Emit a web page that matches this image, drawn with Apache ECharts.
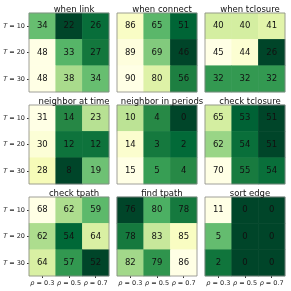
<!DOCTYPE html>
<html><head><meta charset="utf-8">
<script src="https://cdn.jsdelivr.net/npm/echarts@6/dist/echarts.min.js"></script>
<style>html,body{margin:0;padding:0;background:#fff}#c{width:291px;height:291px}</style>
</head><body><div id="c"></div>
<script>
const titles = ['when link','when connect','when tclosure','neighbor at time','neighbor in periods','check tclosure','check tpath','find tpath','sort edge'];
const rowLabels = ['10','20','30'];
const colLabels = ['0.3','0.5','0.7'];
const whenLink = [[34,22,26],[48,33,27],[48,38,34]];
const whenConnect = [[86,65,51],[89,69,46],[90,80,56]];
const whenTclosure = [[40,40,41],[45,44,26],[32,32,32]];
const neighborAtTime = [[31,14,23],[30,12,12],[28,8,19]];
const neighborInPeriods = [[10,4,0],[14,3,2],[15,5,4]];
const checkTclosure = [[65,53,51],[62,54,51],[70,55,54]];
const checkTpath = [[68,62,59],[62,54,64],[64,57,52]];
const findTpath = [[76,80,78],[78,83,85],[82,79,86]];
const sortEdge = [[11,0,0],[5,0,0],[2,0,0]];
const panels = [whenLink,whenConnect,whenTclosure,neighborAtTime,neighborInPeriods,checkTclosure,checkTpath,findTpath,sortEdge];

const colors = ['#004529','#006837','#238443','#41ab5d','#78c679','#addd8e','#d9f0a3','#f7fcb9','#ffffe5'];
const lefts = [29,117,205], tops = [13,105,197], W = 80, H = 79;
const F = 'DejaVu Sans';
const grid=[], xAxis=[], yAxis=[], series=[], visualMap=[], title=[];
panels.forEach((m,k)=>{
  const r=Math.floor(k/3), c=k%3;
  grid.push({left:lefts[c], top:tops[r], width:W, height:H, show:true, borderColor:'#888', borderWidth:0.8, backgroundColor:'transparent', z:5});
  xAxis.push({type:'category', gridIndex:k, data:colLabels, position:'bottom',
    axisLine:{show:false}, splitLine:{show:false},
    axisTick:{show:r===2, length:2, lineStyle:{color:'#333'}, alignWithLabel:true, interval:0},
    axisLabel:{show:r===2, interval:0, margin:4, fontFamily:F, fontSize:6.5, color:'#222',
      formatter:v=>'{i|ρ} = '+v, rich:{i:{fontStyle:'italic', fontFamily:F, fontSize:6.5, color:'#222'}}}});
  yAxis.push({type:'category', gridIndex:k, data:rowLabels, inverse:true,
    axisLine:{show:false}, splitLine:{show:false},
    axisTick:{show:c===0, length:2, lineStyle:{color:'#333'}, alignWithLabel:true, interval:0},
    axisLabel:{show:c===0, interval:0, margin:4, fontFamily:F, fontSize:6.5, color:'#222',
      formatter:v=>'{i|T} = '+v, rich:{i:{fontStyle:'italic', fontFamily:F, fontSize:6.5, color:'#222'}}}});
  const data=[]; let mn=Infinity, mx=-Infinity;
  m.forEach((row,i)=>row.forEach((v,j)=>{data.push([j,i,v]); mn=Math.min(mn,v); mx=Math.max(mx,v);}));
  series.push({type:'heatmap', xAxisIndex:k, yAxisIndex:k, data:data,
    label:{show:true, fontFamily:F, fontSize:8.5, color:'#111'},
    itemStyle:{borderWidth:0}, emphasis:{disabled:true}});
  visualMap.push({type:'continuous', show:false, seriesIndex:k, min:mn, max:mx, dimension:2, inRange:{color:colors}});
  title.push({text:titles[k], left:lefts[c]+W/2, top:tops[r]-13, textAlign:'center',
    textStyle:{fontFamily:F, fontSize:8.5, fontWeight:'normal', color:'#111'}});
});
const chart = echarts.init(document.getElementById('c'), null, {renderer:'canvas'});
chart.setOption({animation:false, title, grid, xAxis, yAxis, series, visualMap});
</script></body></html>
